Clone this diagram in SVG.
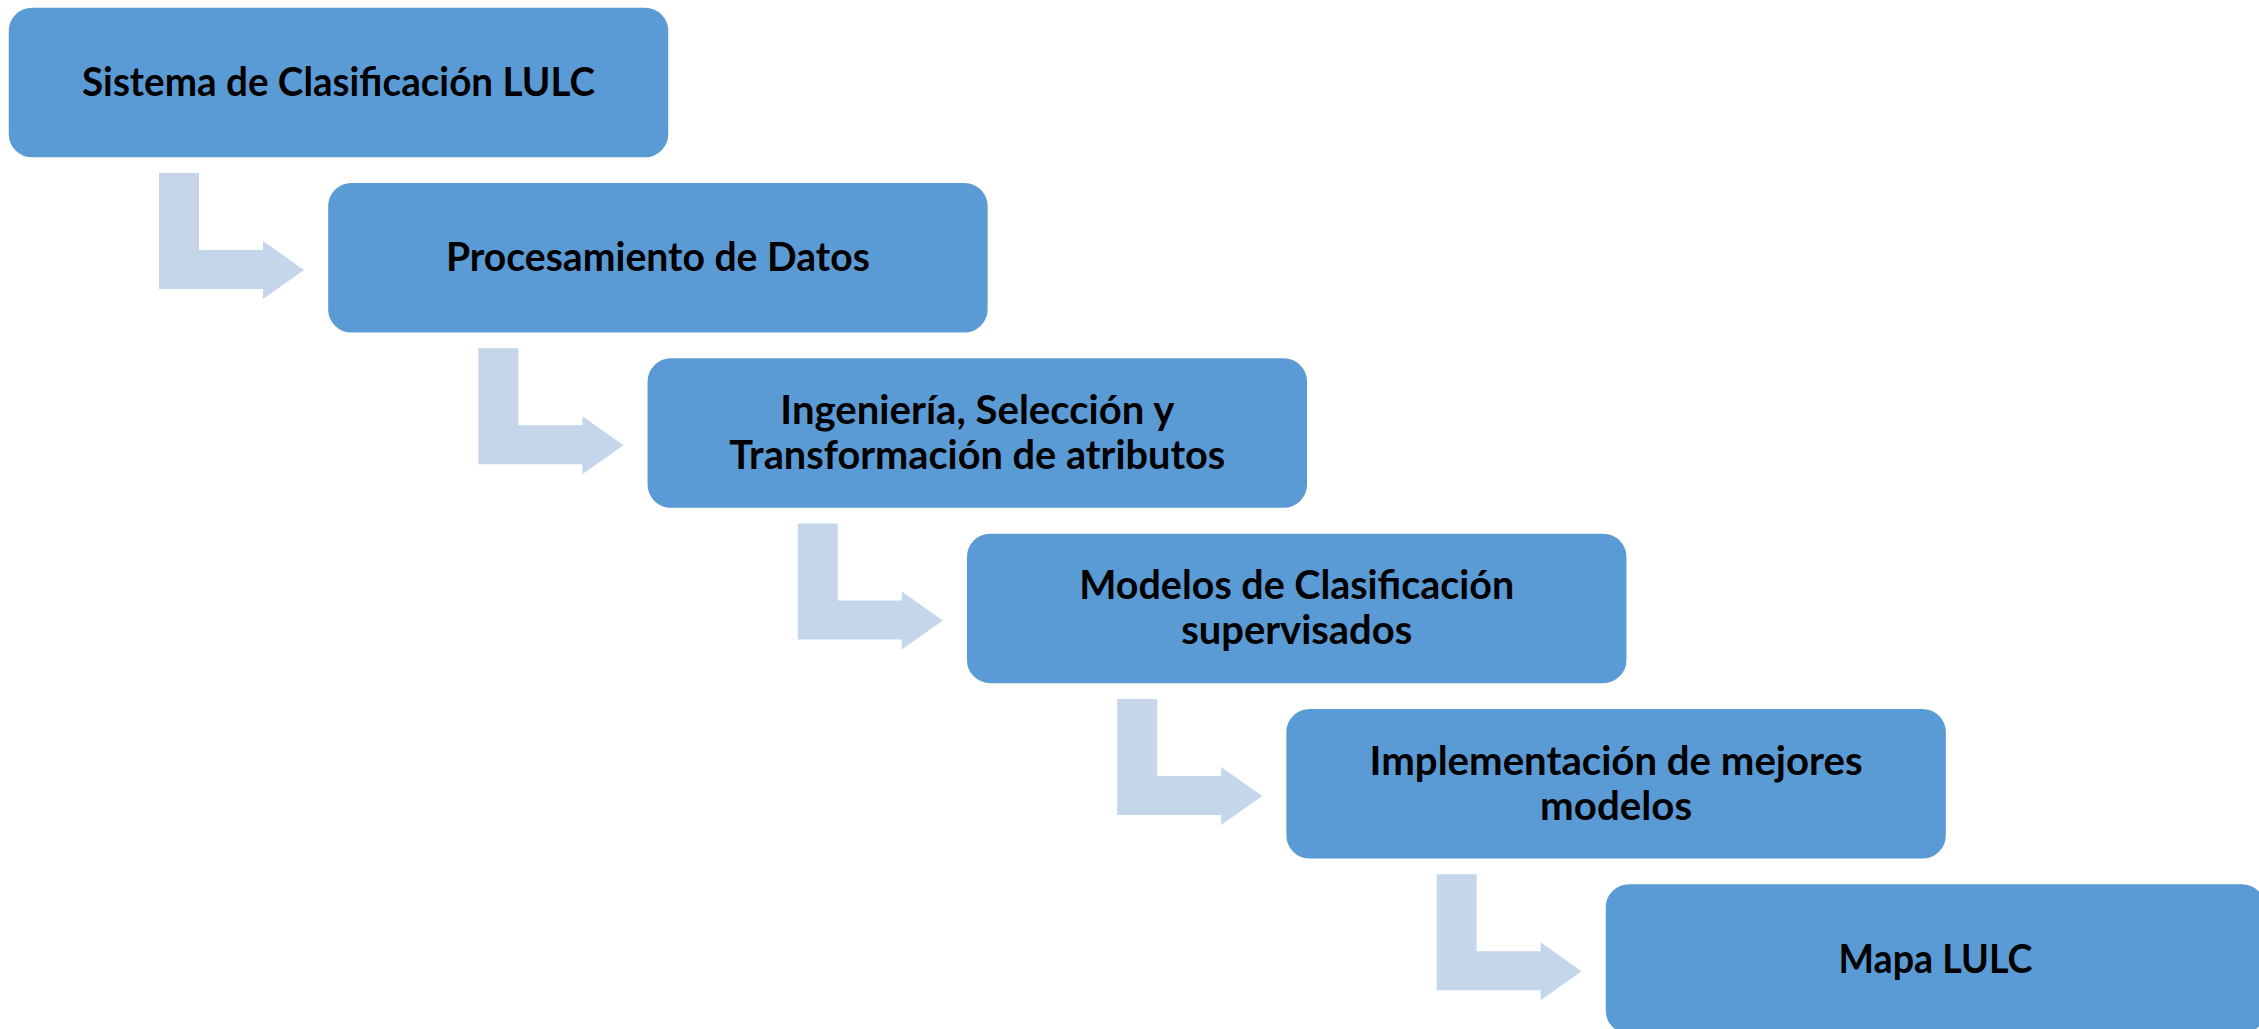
<svg xmlns="http://www.w3.org/2000/svg" xmlns:xlink="http://www.w3.org/1999/xlink" width="2259" height="1029" viewBox="0 0 2259 1029">
  <style>
    .box { fill: #5B9BD5; stroke: #FFFFFF; stroke-width: 1.5; }
    .arrow { fill: #C5D5EA; }
    .lbl { font-family: "Lato", "Open Sans", "Liberation Sans", sans-serif; font-weight: bold; font-size: 40px; fill: #000000; text-anchor: middle; }
  </style>
  <defs>
    <path id="bentArrow" d="M151,166 H191 V243 H255 V234 L296,263 L255,292 V282 H151 Z"/>
  </defs>
  <rect width="2259" height="1029" fill="#FFFFFF"/>
  <g id="connectors">
    <use xlink:href="#bentArrow" class="arrow" transform="translate(8,7)"/>
    <use xlink:href="#bentArrow" class="arrow" transform="translate(327.4,182.3)"/>
    <use xlink:href="#bentArrow" class="arrow" transform="translate(646.8,357.6)"/>
    <use xlink:href="#bentArrow" class="arrow" transform="translate(966.2,532.9)"/>
    <use xlink:href="#bentArrow" class="arrow" transform="translate(1285.6,708.2)"/>
  </g>
  <g id="node1">
    <rect class="box" x="8" y="7" width="661" height="151" rx="24" ry="24"/>
    <text class="lbl" x="338.5" y="96" textLength="513" lengthAdjust="spacingAndGlyphs">Sistema de Clasificación LULC</text>
  </g>
  <g id="node2">
    <rect class="box" x="327.4" y="182.3" width="661" height="151" rx="24" ry="24"/>
    <text class="lbl" x="657.9" y="271.3" textLength="424" lengthAdjust="spacingAndGlyphs">Procesamiento de Datos</text>
  </g>
  <g id="node3">
    <rect class="box" x="646.8" y="357.6" width="661" height="151" rx="24" ry="24"/>
    <text class="lbl" x="977.3" y="424" textLength="394" lengthAdjust="spacingAndGlyphs">Ingeniería, Selección y</text>
    <text class="lbl" x="977.3" y="469" textLength="496" lengthAdjust="spacingAndGlyphs">Transformación de atributos</text>
  </g>
  <g id="node4">
    <rect class="box" x="966.2" y="532.9" width="661" height="151" rx="24" ry="24"/>
    <text class="lbl" x="1296.7" y="599.3" textLength="435" lengthAdjust="spacingAndGlyphs">Modelos de Clasificación</text>
    <text class="lbl" x="1296.7" y="644.3" textLength="231" lengthAdjust="spacingAndGlyphs">supervisados</text>
  </g>
  <g id="node5">
    <rect class="box" x="1285.6" y="708.2" width="661" height="151" rx="24" ry="24"/>
    <text class="lbl" x="1616.1" y="774.6" textLength="493" lengthAdjust="spacingAndGlyphs">Implementación de mejores</text>
    <text class="lbl" x="1616.1" y="819.6" textLength="152" lengthAdjust="spacingAndGlyphs">modelos</text>
  </g>
  <g id="node6">
    <rect class="box" x="1605" y="883.5" width="661" height="151" rx="24" ry="24"/>
    <text class="lbl" x="1935.5" y="972.5" textLength="194" lengthAdjust="spacingAndGlyphs">Mapa LULC</text>
  </g>
</svg>
